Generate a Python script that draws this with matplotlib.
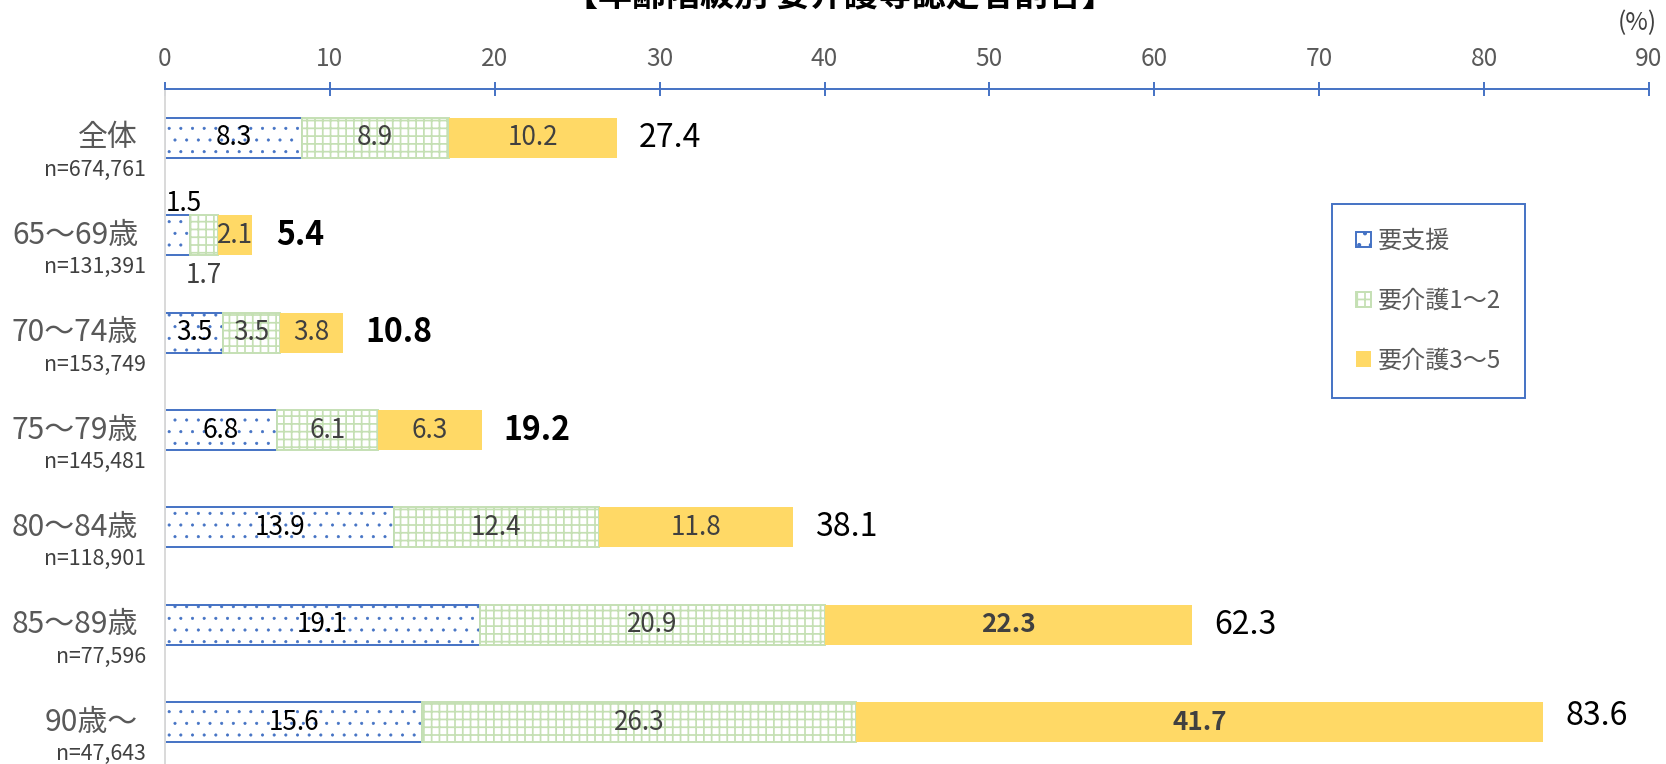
import matplotlib.pyplot as plt

plt.rcParams['font.family'] = ['Noto Sans CJK JP', 'DejaVu Sans']
plt.rcParams['hatch.linewidth'] = 0.9

# data
categories = ['全体', '65～69歳', '70～74歳', '75～79歳', '80～84歳', '85～89歳', '90歳～']
n_labels = ['n=674,761', 'n=131,391', 'n=153,749', 'n=145,481', 'n=118,901', 'n=77,596', 'n=47,643']
series_names = ['要支援', '要介護1～2', '要介護3～5']
support = [8.3, 1.5, 3.5, 6.8, 13.9, 19.1, 15.6]
care12 = [8.9, 1.7, 3.5, 6.1, 12.4, 20.9, 26.3]
care35 = [10.2, 2.1, 3.8, 6.3, 11.8, 22.3, 41.7]
totals = [27.4, 5.4, 10.8, 19.2, 38.1, 62.3, 83.6]
xticks = [0, 10, 20, 30, 40, 50, 60, 70, 80, 90]

BLUE = '#4472C4'
GREEN = '#C5E0B4'
GOLD = '#FFD966'
GRAY = '#595959'
DARK = '#404040'

W, H, DPI = 1666, 764, 140
fig = plt.figure(figsize=(W / DPI, H / DPI), dpi=DPI)
ax = fig.add_axes([165 / W, 0, 1484 / W, 1 - 89 / H])

y = list(range(len(categories)))
left3 = [a + b for a, b in zip(support, care12)]

b1 = ax.barh(y, support, height=0.41, color='white', edgecolor=BLUE, hatch='..', linewidth=1.0)
b2 = ax.barh(y, care12, left=support, height=0.41, color='white', edgecolor=GREEN, hatch='+++', linewidth=1.0)
b3 = ax.barh(y, care35, left=left3, height=0.41, color=GOLD, edgecolor='none')

# smaller dots for the 要支援 pattern
for p in b1:
    if hasattr(p, 'set_hatch_linewidth'):
        p.set_hatch_linewidth(0.35)

ax.set_xlim(0, 90)
ax.set_ylim(6.43, -0.503)
ax.xaxis.tick_top()
ax.set_xticks(xticks)
ax.tick_params(axis='x', direction='inout', length=7.7, width=1.0, color=BLUE,
               labelsize=12.6, labelcolor=GRAY, pad=5)
ax.set_yticks([])
for s in ['right', 'bottom']:
    ax.spines[s].set_visible(False)
ax.spines['top'].set_color(BLUE)
ax.spines['top'].set_linewidth(1.0)
ax.spines['left'].set_color('#D9D9D9')
ax.spines['left'].set_linewidth(1.0)

# segment values
ytr = ax.get_yaxis_transform()
for i in y:
    segs = [(0, support[i], '#000000', 'normal'),
            (support[i], care12[i], DARK, 'normal'),
            (left3[i], care35[i], DARK, 'bold' if care35[i] > 20 else 'normal')]
    for k, (lft, w, col, wt) in enumerate(segs):
        off = (0, 0)
        if i == 1 and k == 0:
            off = (6, 32)
        elif i == 1 and k == 1:
            off = (0, -40)
        ax.annotate(f'{w:.1f}', (lft + w / 2, i), xytext=off, textcoords='offset pixels',
                    ha='center', va='center', fontsize=13.4, color=col, weight=wt)
    # total
    ax.annotate(f'{totals[i]:.1f}', (totals[i], i), xytext=(22, 6 if i == 6 else 0),
                textcoords='offset pixels', ha='left', va='center', fontsize=16.5,
                color='#000000', weight='bold' if i in (1, 2, 3) else 'normal')
    # category labels
    ax.annotate(categories[i], (0, i), xycoords=ytr, xytext=(-27, 0), textcoords='offset pixels',
                ha='right', va='center', fontsize=15.4, color=GRAY)
    ax.annotate(n_labels[i], (0, i), xycoords=ytr, xytext=(-19, -32), textcoords='offset pixels',
                ha='right', va='center', fontsize=11, color=DARK)

fig.text(1657 / W, 1 - 23 / H, '(%)', ha='right', va='center', fontsize=12.6, color=DARK)
fig.text(840 / W, 1 + 5 / H, '【年齢階級別 要介護等認定者割合】', ha='center', va='center',
         fontsize=17.5, weight='bold', color='#000000')

leg = fig.legend([b1, b2, b3], series_names, loc='upper left',
                 bbox_to_anchor=(1332 / W, 1 - 204 / H), borderaxespad=0,
                 fontsize=12.4, labelcolor=GRAY, frameon=True, fancybox=False,
                 edgecolor=BLUE, framealpha=1, borderpad=1.0, labelspacing=1.4,
                 handlelength=0.6, handleheight=0.6, handletextpad=0.3)
leg.get_frame().set_linewidth(1.0)

fig.savefig('out.png', dpi=DPI)
